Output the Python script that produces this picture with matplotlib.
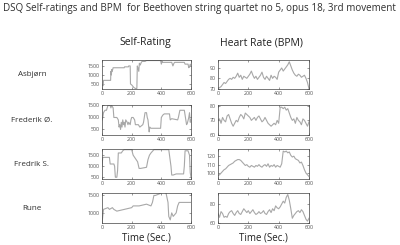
import numpy as np
import matplotlib.pyplot as plt

# ---- data ----
names = ["Asbjørn", "Frederik Ø.", "Fredrik S.", "Rune"]

# self-ratings: (time, value) breakpoints
asb_sr_t = [0, 8, 10, 58, 60, 63, 66, 68, 72, 75, 150, 152, 178, 180, 190, 192, 200, 215, 225, 235,
            238, 242, 248, 252, 258, 265, 270, 290, 300, 395, 400, 405, 410, 470, 478, 485, 490, 500,
            555, 560, 580, 585, 590, 595, 600]
asb_sr_v = [400, 400, 700, 700, 1200, 1000, 1300, 1200, 1300, 1400, 1400, 1450, 1450, 1500, 1500, 500,
            450, 300, 250, 250, 1500, 1400, 1200, 1650, 1550, 1700, 1750, 1750, 1800, 1800, 1600, 1750,
            1700, 1700, 1500, 1650, 1700, 1700, 1700, 1600, 1600, 1400, 1450, 1600, 1500]

fro_sr_t = [0, 5, 10, 20, 30, 40, 55, 60, 65, 75, 80, 100, 110, 115, 120, 125, 130, 135, 140, 145,
            150, 155, 160, 170, 175, 180, 190, 195, 200, 210, 220, 225, 235, 245, 255, 275, 280, 290,
            300, 305, 310, 318, 322, 330, 395, 400, 410, 420, 455, 460, 470, 510, 515, 525, 555, 560,
            570, 575, 585, 590, 595, 600]
fro_sr_v = [900, 1000, 1200, 1300, 1300, 1500, 1500, 1400, 1500, 1400, 1000, 1000, 900, 600, 700, 500,
            800, 600, 900, 700, 800, 600, 900, 800, 700, 800, 700, 900, 1000, 1000, 900, 700, 700, 700,
            600, 700, 800, 1200, 1200, 1000, 900, 400, 600, 550, 550, 1000, 1100, 1150, 1150, 900, 950,
            900, 1000, 1300, 1300, 1100, 700, 750, 1000, 1200, 800, 900]

frs_sr_t = [0, 5, 10, 50, 55, 80, 85, 90, 100, 105, 110, 130, 140, 150, 200, 210, 230, 240, 250, 260,
            300, 310, 320, 330, 350, 450, 455, 465, 470, 480, 500, 550, 555, 560, 580, 590, 595, 600]
frs_sr_v = [1000, 1400, 1400, 1400, 1100, 1100, 1000, 500, 500, 800, 1600, 1600, 1700, 1750, 1750, 1500,
            1300, 1200, 900, 900, 950, 1300, 1500, 1600, 1750, 1750, 1500, 1000, 600, 600, 650, 650,
            1000, 1700, 1700, 1500, 700, 500]

run_sr_t = [0, 5, 10, 40, 50, 70, 80, 100, 150, 200, 210, 250, 300, 330, 340, 350, 360, 390, 400, 430,
            435, 445, 450, 460, 470, 480, 490, 500, 510, 520, 530, 600]
run_sr_v = [700, 900, 1100, 1150, 1100, 1150, 1100, 1050, 1100, 1150, 1200, 1200, 1250, 1200, 1300, 1500,
            1500, 1550, 1600, 1600, 1500, 1300, 900, 800, 1000, 900, 950, 1000, 1200, 1300, 1300, 1300]

# heart rate, one value every 10 s from 0 to 600
hr_t = list(range(0, 601, 10))
asb_hr = [70, 71, 72, 74, 76, 75, 77, 79, 80, 79, 81, 80, 82, 85, 81, 83, 79, 82, 81, 80,
          82, 84, 87, 83, 80, 82, 79, 81, 83, 86, 81, 79, 82, 80, 78, 83, 80, 82, 81, 79,
          86, 88, 90, 87, 89, 91, 93, 96, 92, 88, 85, 83, 82, 84, 83, 81, 82, 83, 80, 76, 70]
fro_hr = [70, 71, 68, 72, 70, 69, 73, 74, 71, 68, 66, 68, 70, 69, 72, 74, 73, 71, 75, 74,
          73, 72, 70, 71, 72, 70, 72, 73, 71, 69, 70, 72, 70, 68, 67, 66, 67, 68, 67, 70,
          68, 79, 79, 78, 79, 77, 78, 75, 72, 70, 71, 68, 72, 70, 69, 67, 71, 70, 68, 66, 69]
frs_hr = [97, 98, 100, 102, 104, 105, 107, 109, 110, 111, 112, 114, 115, 116, 116, 115, 113, 111, 109, 110,
          108, 107, 109, 108, 107, 109, 108, 110, 108, 107, 109, 110, 108, 111, 107, 109, 108, 110, 107, 109,
          108, 107, 111, 126, 125, 126, 124, 125, 121, 119, 120, 117, 116, 115, 112, 113, 109, 104, 100, 98, 96]
run_hr = [70, 66, 72, 70, 66, 67, 66, 70, 72, 73, 70, 68, 71, 73, 70, 69, 72, 75, 73, 71,
          73, 70, 72, 74, 71, 69, 70, 72, 70, 71, 73, 70, 69, 72, 74, 71, 75, 73, 78, 76,
          75, 77, 80, 83, 81, 87, 90, 84, 75, 65, 68, 70, 72, 73, 71, 74, 72, 68, 64, 62, 65]

sr_data = [(asb_sr_t, asb_sr_v), (fro_sr_t, fro_sr_v), (frs_sr_t, frs_sr_v), (run_sr_t, run_sr_v)]
hr_data = [asb_hr, fro_hr, frs_hr, run_hr]

sr_ylim = [(220, 1830), (270, 1520), (420, 1780), (710, 1570)]
sr_ticks = [[500, 1000, 1500], [500, 1000, 1500], [500, 1000, 1500], [1000, 1500]]
hr_ylim = [(69.7, 97.7), (60, 80.5), (93, 128.5), (60, 91.6)]
hr_ticks = [[70, 80, 90], [60, 70, 80], [100, 110, 120], [60, 80]]

W, H = 400, 245
fig = plt.figure(figsize=(4, 2.45), dpi=100)
plt.rcParams['font.family'] = ['Open Sans', 'DejaVu Sans']

line_col = '#a8a8a8'
rows_px = [(60, 89), (105, 135), (149, 179), (193, 223)]
cols_px = [(102, 191), (218, 309)]


def style(ax, ylim, yticks):
    ax.set_xlim(0, 600)
    ax.set_ylim(*ylim)
    ax.set_xticks([0, 200, 400, 600])
    ax.set_yticks(yticks)
    ax.tick_params(direction='in', length=1.5, width=0.4, labelsize=3.8, pad=1.5,
                   top=True, right=True, colors='#505050')
    for s in ax.spines.values():
        s.set_linewidth(0.5)
        s.set_color('#404040')


for i, (top, bot) in enumerate(rows_px):
    y0 = 1 - bot / H
    h = (bot - top) / H
    axl = fig.add_axes([cols_px[0][0] / W, y0, (cols_px[0][1] - cols_px[0][0]) / W, h])
    axl.plot(sr_data[i][0], sr_data[i][1], color=line_col, lw=0.8)
    style(axl, sr_ylim[i], sr_ticks[i])
    axr = fig.add_axes([cols_px[1][0] / W, y0, (cols_px[1][1] - cols_px[1][0]) / W, h])
    axr.plot(hr_t, hr_data[i], color=line_col, lw=0.8)
    style(axr, hr_ylim[i], hr_ticks[i])
    fig.text(32 / W, 1 - (top + bot) / 2 / H, names[i], ha='center', va='center',
             fontsize=5.8, color='#303030')
    if i == 3:
        axl.set_xlabel("Time (Sec.)", fontsize=7, labelpad=2, color='#202020')
        axr.set_xlabel("Time (Sec.)", fontsize=7, labelpad=2, color='#202020')

fig.text(3 / W, 1 - 9 / H, "DSQ Self-ratings and BPM  for Beethoven string quartet no 5, opus 18, 3rd movement",
         ha='left', va='center', fontsize=7.1, color='#303030')
fig.text(145 / W, 1 - 43 / H, "Self-Rating", ha='center', va='center', fontsize=7.5, color='#202020')
fig.text(261 / W, 1 - 43 / H, "Heart Rate (BPM)", ha='center', va='center', fontsize=7.5, color='#202020')

fig.savefig("out.png", dpi=100)
